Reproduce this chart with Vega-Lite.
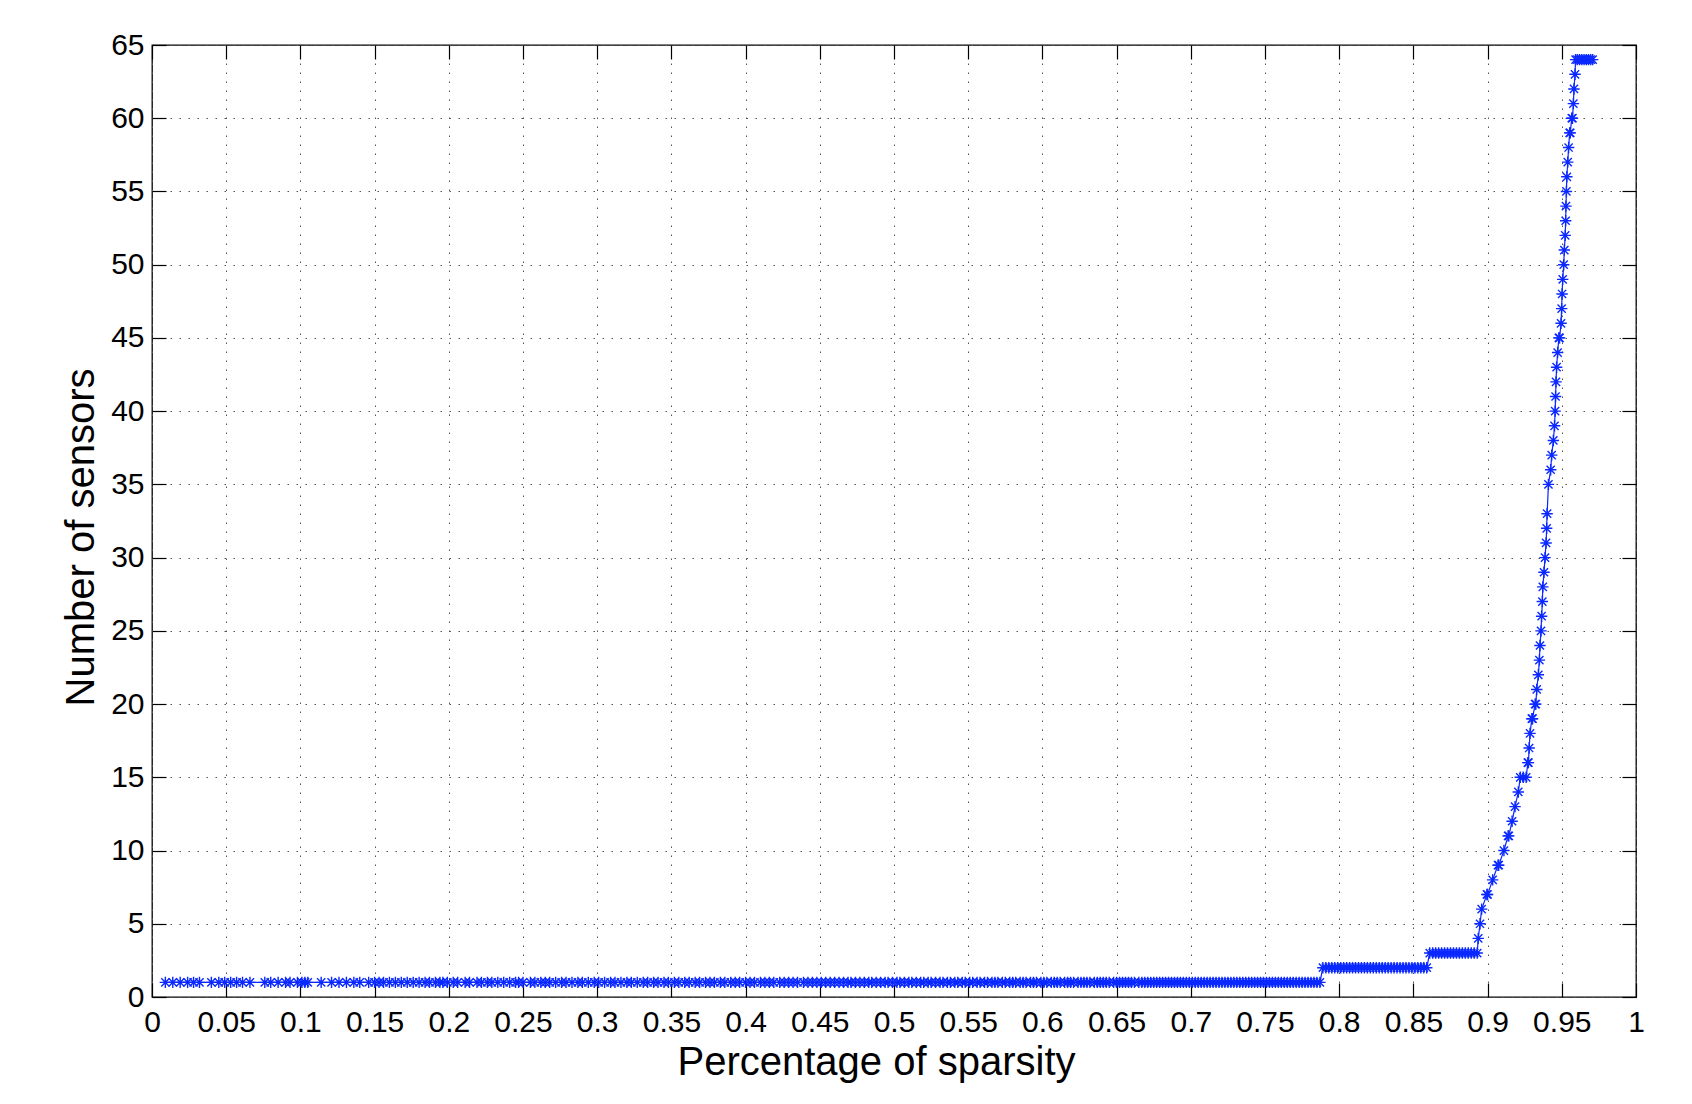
{
  "$schema": "https://vega.github.io/schema/vega-lite/v6.json",
  "autosize": "none",
  "padding": {"left": 152, "top": 45, "right": 56, "bottom": 107},
  "width": 1484,
  "height": 952,
  "background": "#ffffff",
  "config": {
    "view": {"stroke": "#000000", "strokeWidth": 1.3},
    "font": "Liberation Sans",
    "axis": {
      "labelFont": "Liberation Sans",
      "titleFont": "Liberation Sans",
      "labelColor": "#000000",
      "titleColor": "#000000",
      "titleFontWeight": "normal",
      "tickColor": "#000000",
      "tickWidth": 1.2,
      "domain": false
    }
  },
  "data": {"values": [
    {"x":0.009,"y":1},{"x":0.014,"y":1},{"x":0.019,"y":1},{"x":0.024,"y":1},{"x":0.028,"y":1},{"x":0.032,"y":1},{"x":0.040,"y":1},{"x":0.045,"y":1},{"x":0.049,"y":1},{"x":0.053,"y":1},
    {"x":0.057,"y":1},{"x":0.061,"y":1},{"x":0.066,"y":1},{"x":0.076,"y":1},{"x":0.080,"y":1},{"x":0.085,"y":1},{"x":0.090,"y":1},{"x":0.093,"y":1},{"x":0.098,"y":1},{"x":0.101,"y":1},
    {"x":0.103,"y":1},{"x":0.105,"y":1},{"x":0.114,"y":1},{"x":0.121,"y":1},{"x":0.126,"y":1},{"x":0.131,"y":1},{"x":0.136,"y":1},{"x":0.140,"y":1},{"x":0.146,"y":1},{"x":0.150,"y":1},
    {"x":0.153,"y":1},{"x":0.156,"y":1},{"x":0.160,"y":1},{"x":0.164,"y":1},{"x":0.168,"y":1},{"x":0.172,"y":1},{"x":0.176,"y":1},{"x":0.180,"y":1},{"x":0.184,"y":1},{"x":0.187,"y":1},
    {"x":0.191,"y":1},{"x":0.194,"y":1},{"x":0.196,"y":1},{"x":0.199,"y":1},{"x":0.203,"y":1},{"x":0.206,"y":1},{"x":0.211,"y":1},{"x":0.214,"y":1},{"x":0.219,"y":1},{"x":0.222,"y":1},
    {"x":0.226,"y":1},{"x":0.229,"y":1},{"x":0.233,"y":1},{"x":0.237,"y":1},{"x":0.241,"y":1},{"x":0.245,"y":1},{"x":0.247,"y":1},{"x":0.250,"y":1},{"x":0.255,"y":1},{"x":0.258,"y":1},
    {"x":0.262,"y":1},{"x":0.265,"y":1},{"x":0.268,"y":1},{"x":0.272,"y":1},{"x":0.276,"y":1},{"x":0.279,"y":1},{"x":0.283,"y":1},{"x":0.287,"y":1},{"x":0.290,"y":1},{"x":0.294,"y":1},
    {"x":0.298,"y":1},{"x":0.301,"y":1},{"x":0.305,"y":1},{"x":0.309,"y":1},{"x":0.312,"y":1},{"x":0.316,"y":1},{"x":0.320,"y":1},{"x":0.323,"y":1},{"x":0.327,"y":1},{"x":0.331,"y":1},
    {"x":0.334,"y":1},{"x":0.338,"y":1},{"x":0.341,"y":1},{"x":0.345,"y":1},{"x":0.348,"y":1},{"x":0.352,"y":1},{"x":0.355,"y":1},{"x":0.359,"y":1},{"x":0.362,"y":1},{"x":0.366,"y":1},
    {"x":0.369,"y":1},{"x":0.373,"y":1},{"x":0.376,"y":1},{"x":0.379,"y":1},{"x":0.383,"y":1},{"x":0.386,"y":1},{"x":0.390,"y":1},{"x":0.393,"y":1},{"x":0.396,"y":1},{"x":0.400,"y":1},
    {"x":0.403,"y":1},{"x":0.406,"y":1},{"x":0.410,"y":1},{"x":0.413,"y":1},{"x":0.416,"y":1},{"x":0.419,"y":1},{"x":0.423,"y":1},{"x":0.426,"y":1},{"x":0.429,"y":1},{"x":0.432,"y":1},
    {"x":0.435,"y":1},{"x":0.439,"y":1},{"x":0.442,"y":1},{"x":0.445,"y":1},{"x":0.448,"y":1},{"x":0.451,"y":1},{"x":0.454,"y":1},{"x":0.457,"y":1},{"x":0.460,"y":1},{"x":0.463,"y":1},
    {"x":0.466,"y":1},{"x":0.469,"y":1},{"x":0.471,"y":1},{"x":0.474,"y":1},{"x":0.477,"y":1},{"x":0.480,"y":1},{"x":0.483,"y":1},{"x":0.485,"y":1},{"x":0.488,"y":1},{"x":0.491,"y":1},
    {"x":0.494,"y":1},{"x":0.496,"y":1},{"x":0.499,"y":1},{"x":0.502,"y":1},{"x":0.504,"y":1},{"x":0.507,"y":1},{"x":0.510,"y":1},{"x":0.512,"y":1},{"x":0.515,"y":1},{"x":0.518,"y":1},
    {"x":0.520,"y":1},{"x":0.523,"y":1},{"x":0.525,"y":1},{"x":0.528,"y":1},{"x":0.531,"y":1},{"x":0.533,"y":1},{"x":0.536,"y":1},{"x":0.538,"y":1},{"x":0.541,"y":1},{"x":0.543,"y":1},
    {"x":0.546,"y":1},{"x":0.548,"y":1},{"x":0.551,"y":1},{"x":0.553,"y":1},{"x":0.556,"y":1},{"x":0.558,"y":1},{"x":0.561,"y":1},{"x":0.563,"y":1},{"x":0.566,"y":1},{"x":0.568,"y":1},
    {"x":0.570,"y":1},{"x":0.573,"y":1},{"x":0.575,"y":1},{"x":0.578,"y":1},{"x":0.580,"y":1},{"x":0.582,"y":1},{"x":0.585,"y":1},{"x":0.587,"y":1},{"x":0.589,"y":1},{"x":0.592,"y":1},
    {"x":0.594,"y":1},{"x":0.596,"y":1},{"x":0.599,"y":1},{"x":0.601,"y":1},{"x":0.603,"y":1},{"x":0.606,"y":1},{"x":0.608,"y":1},{"x":0.610,"y":1},{"x":0.612,"y":1},{"x":0.615,"y":1},
    {"x":0.617,"y":1},{"x":0.619,"y":1},{"x":0.621,"y":1},{"x":0.624,"y":1},{"x":0.626,"y":1},{"x":0.628,"y":1},{"x":0.630,"y":1},{"x":0.632,"y":1},{"x":0.635,"y":1},{"x":0.637,"y":1},
    {"x":0.639,"y":1},{"x":0.641,"y":1},{"x":0.643,"y":1},{"x":0.645,"y":1},{"x":0.648,"y":1},{"x":0.650,"y":1},{"x":0.652,"y":1},{"x":0.654,"y":1},{"x":0.656,"y":1},{"x":0.658,"y":1},
    {"x":0.660,"y":1},{"x":0.662,"y":1},{"x":0.665,"y":1},{"x":0.667,"y":1},{"x":0.669,"y":1},{"x":0.671,"y":1},{"x":0.673,"y":1},{"x":0.675,"y":1},{"x":0.677,"y":1},{"x":0.679,"y":1},
    {"x":0.681,"y":1},{"x":0.683,"y":1},{"x":0.685,"y":1},{"x":0.687,"y":1},{"x":0.689,"y":1},{"x":0.691,"y":1},{"x":0.693,"y":1},{"x":0.695,"y":1},{"x":0.697,"y":1},{"x":0.699,"y":1},
    {"x":0.701,"y":1},{"x":0.703,"y":1},{"x":0.705,"y":1},{"x":0.707,"y":1},{"x":0.709,"y":1},{"x":0.711,"y":1},{"x":0.713,"y":1},{"x":0.715,"y":1},{"x":0.717,"y":1},{"x":0.719,"y":1},
    {"x":0.721,"y":1},{"x":0.723,"y":1},{"x":0.725,"y":1},{"x":0.727,"y":1},{"x":0.729,"y":1},{"x":0.731,"y":1},{"x":0.733,"y":1},{"x":0.735,"y":1},{"x":0.737,"y":1},{"x":0.739,"y":1},
    {"x":0.741,"y":1},{"x":0.743,"y":1},{"x":0.745,"y":1},{"x":0.747,"y":1},{"x":0.749,"y":1},{"x":0.751,"y":1},{"x":0.753,"y":1},{"x":0.755,"y":1},{"x":0.757,"y":1},{"x":0.759,"y":1},
    {"x":0.761,"y":1},{"x":0.763,"y":1},{"x":0.765,"y":1},{"x":0.767,"y":1},{"x":0.769,"y":1},{"x":0.771,"y":1},{"x":0.773,"y":1},{"x":0.775,"y":1},{"x":0.777,"y":1},{"x":0.779,"y":1},
    {"x":0.781,"y":1},{"x":0.783,"y":1},{"x":0.785,"y":1},{"x":0.787,"y":1},
    {"x":0.789,"y":2},{"x":0.791,"y":2},{"x":0.793,"y":2},{"x":0.795,"y":2},{"x":0.797,"y":2},{"x":0.799,"y":2},{"x":0.801,"y":2},{"x":0.803,"y":2},{"x":0.805,"y":2},{"x":0.807,"y":2},
    {"x":0.809,"y":2},{"x":0.811,"y":2},{"x":0.813,"y":2},{"x":0.815,"y":2},{"x":0.817,"y":2},{"x":0.819,"y":2},{"x":0.821,"y":2},{"x":0.823,"y":2},{"x":0.825,"y":2},{"x":0.827,"y":2},
    {"x":0.829,"y":2},{"x":0.831,"y":2},{"x":0.833,"y":2},{"x":0.835,"y":2},{"x":0.837,"y":2},{"x":0.839,"y":2},{"x":0.841,"y":2},{"x":0.843,"y":2},{"x":0.845,"y":2},{"x":0.847,"y":2},
    {"x":0.849,"y":2},{"x":0.851,"y":2},{"x":0.853,"y":2},{"x":0.855,"y":2},{"x":0.857,"y":2},{"x":0.859,"y":2},
    {"x":0.861,"y":3},{"x":0.863,"y":3},{"x":0.865,"y":3},{"x":0.867,"y":3},{"x":0.869,"y":3},{"x":0.871,"y":3},{"x":0.873,"y":3},{"x":0.875,"y":3},{"x":0.877,"y":3},{"x":0.879,"y":3},
    {"x":0.881,"y":3},{"x":0.883,"y":3},{"x":0.885,"y":3},{"x":0.887,"y":3},{"x":0.889,"y":3},{"x":0.891,"y":3},{"x":0.893,"y":3},
    {"x":0.8937,"y":4},{"x":0.8949,"y":5},{"x":0.8960,"y":6},{"x":0.8995,"y":7},{"x":0.9000,"y":7},{"x":0.9034,"y":8},{"x":0.9070,"y":9},{"x":0.9075,"y":9},{"x":0.9110,"y":10},
    {"x":0.9138,"y":11},{"x":0.9143,"y":11},{"x":0.9165,"y":12},{"x":0.9185,"y":13},{"x":0.9207,"y":14},{"x":0.9220,"y":15},{"x":0.9240,"y":15},{"x":0.9260,"y":15},
    {"x":0.9271,"y":16},{"x":0.9275,"y":16},{"x":0.9280,"y":17},{"x":0.9286,"y":18},{"x":0.9298,"y":19},{"x":0.9303,"y":19},{"x":0.9320,"y":20},{"x":0.9325,"y":20},
    {"x":0.9331,"y":21},{"x":0.9342,"y":22},{"x":0.9349,"y":23},{"x":0.9353,"y":24},{"x":0.9360,"y":25},{"x":0.9364,"y":26},{"x":0.9369,"y":27},{"x":0.9372,"y":28},
    {"x":0.9380,"y":29},{"x":0.9387,"y":30},{"x":0.9394,"y":31},{"x":0.9398,"y":32},{"x":0.9401,"y":33},{"x":0.9410,"y":35},{"x":0.9425,"y":36},{"x":0.9432,"y":37},
    {"x":0.9443,"y":38},{"x":0.9451,"y":39},{"x":0.9455,"y":40},{"x":0.9458,"y":41},{"x":0.9461,"y":42},{"x":0.9465,"y":43},{"x":0.9472,"y":44},{"x":0.9480,"y":45},
    {"x":0.9485,"y":45},{"x":0.9495,"y":46},{"x":0.9499,"y":47},{"x":0.9502,"y":48},{"x":0.9506,"y":49},{"x":0.9513,"y":50},{"x":0.9517,"y":51},{"x":0.9523,"y":52},
    {"x":0.9526,"y":53},{"x":0.9528,"y":54},{"x":0.9531,"y":55},{"x":0.9534,"y":56},{"x":0.9540,"y":57},{"x":0.9546,"y":58},{"x":0.9553,"y":59},{"x":0.9557,"y":59},
    {"x":0.9567,"y":60},{"x":0.9572,"y":60},{"x":0.9578,"y":61},{"x":0.9582,"y":62},{"x":0.9589,"y":63},
    {"x":0.9593,"y":64},{"x":0.9605,"y":64},{"x":0.9620,"y":64},{"x":0.9635,"y":64},{"x":0.9650,"y":64},{"x":0.9665,"y":64},{"x":0.9680,"y":64},{"x":0.9695,"y":64},{"x":0.9708,"y":64}
  ]},
  "layer": [
    {
      "mark": {"type": "line", "color": "#0a28ff", "strokeWidth": 1.2},
      "encoding": {
        "x": {
          "field": "x", "type": "quantitative",
          "scale": {"domain": [0, 1], "nice": false, "zero": false},
          "axis": {
            "orient": "bottom",
            "values": [0,0.05,0.1,0.15,0.2,0.25,0.3,0.35,0.4,0.45,0.5,0.55,0.6,0.65,0.7,0.75,0.8,0.85,0.9,0.95,1],
            "format": "~g",
            "labelFontSize": 30,
            "labelFlush": false,
            "labelBaseline": "alphabetic",
            "labelPadding": 48.5,
            "tickSize": -14,
            "grid": true,
            "gridColor": "#555555",
            "gridDash": [1.5, 7.5],
            "gridWidth": 1,
            "title": "Percentage of sparsity",
            "titleFontSize": 40,
            "titleBaseline": "alphabetic",
            "titleAnchor": null,
            "titleX": 724,
            "titleY": 77
          }
        },
        "y": {
          "field": "y", "type": "quantitative",
          "scale": {"domain": [0, 65], "nice": false, "zero": false},
          "axis": {
            "orient": "left",
            "values": [0,5,10,15,20,25,30,35,40,45,50,55,60,65],
            "labelFontSize": 30,
            "labelPadding": 22,
            "tickSize": -14,
            "grid": true,
            "gridColor": "#555555",
            "gridDash": [1.5, 7.5],
            "gridWidth": 1,
            "title": "Number of sensors",
            "titleFontSize": 40,
            "titleBaseline": "alphabetic",
            "titleAnchor": null,
            "titleAngle": 270,
            "titleX": -59,
            "titleY": 492
          }
        }
      }
    },
    {
      "mark": {
        "type": "point",
        "shape": "M-1,0L1,0M0,-1L0,1M-0.72,-0.72L0.72,0.72M-0.72,0.72L0.72,-0.72",
        "filled": false,
        "stroke": "#0a28ff",
        "strokeWidth": 1.4,
        "size": 130,
        "opacity": 1
      },
      "encoding": {
        "x": {
          "field": "x", "type": "quantitative",
          "scale": {"domain": [0, 1], "nice": false, "zero": false},
          "axis": {
            "orient": "top",
            "values": [0,0.05,0.1,0.15,0.2,0.25,0.3,0.35,0.4,0.45,0.5,0.55,0.6,0.65,0.7,0.75,0.8,0.85,0.9,0.95,1],
            "labels": false,
            "tickSize": -14,
            "grid": false,
            "title": null
          }
        },
        "y": {
          "field": "y", "type": "quantitative",
          "scale": {"domain": [0, 65], "nice": false, "zero": false},
          "axis": {
            "orient": "right",
            "values": [0,5,10,15,20,25,30,35,40,45,50,55,60,65],
            "labels": false,
            "tickSize": -14,
            "grid": false,
            "title": null
          }
        }
      }
    }
  ],
  "resolve": {"axis": {"x": "independent", "y": "independent"}}
}
